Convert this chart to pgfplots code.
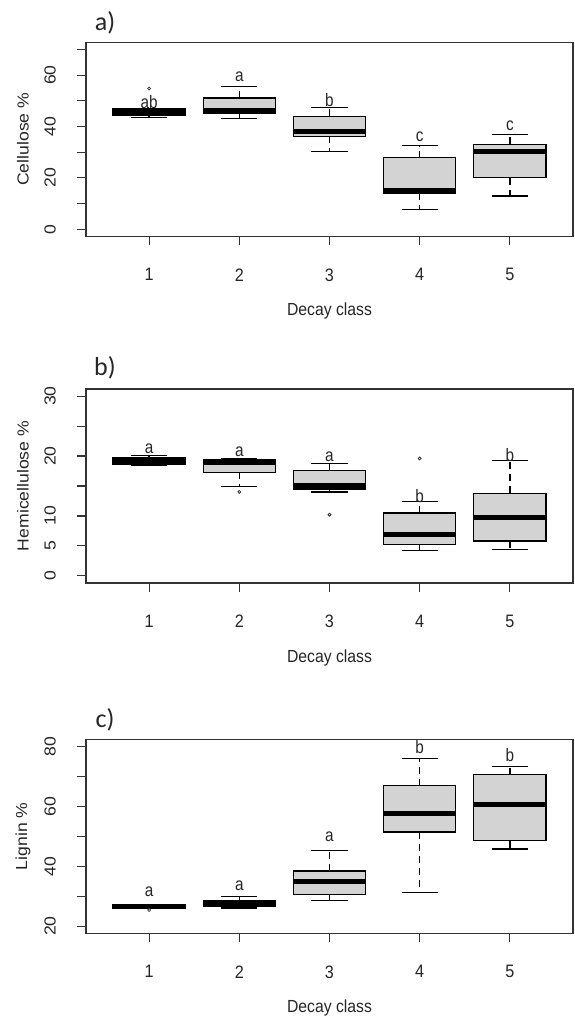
\documentclass[border=0pt]{standalone}
\usepackage{pgfplots}
\pgfplotsset{compat=1.18}
\usepgfplotslibrary{statistics}
\usepackage{fontspec}
\setmainfont{Liberation Sans}
\newfontfamily\hfont[FakeStretch=0.9]{Liberation Sans}
\newfontfamily\vfont[FakeStretch=1.1]{Liberation Sans}
\newfontfamily\lfont[FakeStretch=0.85]{Liberation Sans}
\newfontfamily\tfont{Carlito}
\definecolor{boxgray}{HTML}{D3D3D3}
\definecolor{txt}{HTML}{262626}

\tikzset{
  lab/.style={font=\lfont\fontsize{18}{18}\selectfont, text=txt, inner sep=0pt, anchor=center},
  ttl/.style={font=\tfont\fontsize{26}{26}\selectfont, text=txt, inner sep=0pt, anchor=center},
}

\pgfplotsset{
  rbox/.style={
    boxplot/draw direction=y,
    boxplot/box extend=0.8,
    boxplot/whisker extend=0.4,
    draw=black, line width=1.3pt, solid,
    mark=o, mark size=1.5pt, mark options={solid, line width=0.8pt, draw=black!80},
    boxplot/draw/box/.code={%
      \draw[line width=1.3pt, fill=boxgray, draw=black]
        (boxplot box cs:\pgfplotsboxplotvalue{lower quartile},0) rectangle
        (boxplot box cs:\pgfplotsboxplotvalue{upper quartile},1);},
    boxplot/draw/median/.code={%
      \draw[line width=5pt, black]
        (boxplot box cs:\pgfplotsboxplotvalue{median},0) --
        (boxplot box cs:\pgfplotsboxplotvalue{median},1);},
    boxplot/draw/lower whisker/.code={%
      \draw[line width=1.3pt, black]
        (boxplot whisker cs:\pgfplotsboxplotvalue{lower whisker},0) --
        (boxplot whisker cs:\pgfplotsboxplotvalue{lower whisker},1);
      \draw[line width=1.3pt, black, dash pattern=on 7pt off 5pt]
        (boxplot cs:\pgfplotsboxplotvalue{lower quartile}) --
        (boxplot cs:\pgfplotsboxplotvalue{lower whisker});},
    boxplot/draw/upper whisker/.code={%
      \draw[line width=1.3pt, black]
        (boxplot whisker cs:\pgfplotsboxplotvalue{upper whisker},0) --
        (boxplot whisker cs:\pgfplotsboxplotvalue{upper whisker},1);
      \draw[line width=1.3pt, black, dash pattern=on 7pt off 5pt]
        (boxplot cs:\pgfplotsboxplotvalue{upper quartile}) --
        (boxplot cs:\pgfplotsboxplotvalue{upper whisker});},
  },
  panel/.style={
    width=487pt, height=194pt, scale only axis, clip=false,
    anchor=north west,
    xmin=0.3, xmax=5.7, xtick={1,2,3,4,5}, xticklabels={1,2,3,4,5},
    tick pos=left, tick align=outside, major tick length=9pt,
    minor tick num=0,
    /pgf/number format/assume math mode=true,
    tick style={line width=1.2pt, black!80},
    axis line style={line width=1.4pt, black!80},
    xticklabel style={font=\hfont\fontsize{18}{18}\selectfont, anchor=north, inner sep=0pt, text=txt},
    xticklabel shift=23pt,
    yticklabel style={font=\vfont\fontsize{16}{16}\selectfont, rotate=90, anchor=south, inner sep=0pt, text=txt},
    yticklabel shift=21pt,
    xlabel={Decay class},
    xlabel style={at={(axis description cs:0.5,-0.384)}, anchor=center, inner sep=0pt,
      font=\hfont\fontsize{17.5}{17.5}\selectfont, text=txt},
    ylabel style={at={(axis description cs:-0.1294,0.5)}, anchor=center, inner sep=0pt,
      font=\vfont\fontsize{16}{16}\selectfont, text=txt},
  },
}

\newcommand{\rb}[7]{%
  \addplot[rbox, boxplot prepared={draw position=#1, lower whisker=#2,
    lower quartile=#3, median=#4, upper quartile=#5, upper whisker=#6}]
    coordinates {#7};}

\begin{document}
\begin{tikzpicture}
\path[use as bounding box] (0pt,0pt) rectangle (574pt,-1016pt);

% ---------------- a) Cellulose
\begin{axis}[panel, at={(86pt,-42.3pt)},
  ymin=-2.8, ymax=72.8, ytick={0,10,20,30,40,50,60,70},
  yticklabels={0,,20,,40,,60,}, ylabel={Cellulose \%}]
\rb{1}{43.4}{44.4}{45.6}{46.8}{46.8}{(0,54.8)}
\rb{2}{43.2}{45.1}{46.3}{51.1}{55.6}{}
\rb{3}{30.3}{36.2}{38.1}{44.0}{47.3}{}
\rb{4}{7.7}{14.1}{15.0}{27.8}{32.5}{}
\rb{5}{12.9}{20.0}{30.4}{33.0}{36.8}{}
\node[lab] at (axis cs:1,49.6) {ab};
\node[lab] at (axis cs:2,59.3) {a};
\node[lab] at (axis cs:3,50.3) {b};
\node[lab] at (axis cs:4,36.0) {c};
\node[lab] at (axis cs:5,40.2) {c};
\node[ttl] at (axis description cs:0.039,1.10) {a)};
\end{axis}

% ---------------- b) Hemicellulose
\begin{axis}[panel, at={(86pt,-389pt)},
  ymin=-1.2, ymax=31.2, ytick={0,5,10,15,20,25,30},
  yticklabels={0,5,10,,20,,30}, ylabel={Hemicellulose \%}]
\rb{1}{18.4}{18.7}{19.2}{19.7}{20.05}{}
\rb{2}{14.9}{17.3}{19.0}{19.4}{19.6}{(0,14.0)}
\rb{3}{14.0}{14.5}{15.1}{17.6}{18.8}{(0,10.2)}
\rb{4}{4.2}{5.2}{6.9}{10.5}{12.4}{(0,19.6)}
\rb{5}{4.4}{5.8}{9.7}{13.8}{19.3}{}
\node[lab] at (axis cs:1,21.3) {a};
\node[lab] at (axis cs:2,20.8) {a};
\node[lab] at (axis cs:3,19.9) {a};
\node[lab] at (axis cs:4,13.4) {b};
\node[lab] at (axis cs:5,20.1) {b};
\node[ttl] at (axis description cs:0.039,1.108) {b)};
\end{axis}

% ---------------- c) Lignin
\begin{axis}[panel, at={(86pt,-739.3pt)},
  ymin=17.6, ymax=82.4, ytick={20,30,40,50,60,70,80},
  yticklabels={20,,40,,60,,80}, ylabel={Lignin \%}]
\rb{1}{26.0}{26.0}{26.6}{27.2}{27.2}{(0,25.4)}
\rb{2}{26.1}{26.6}{27.4}{28.6}{30.0}{}
\rb{3}{28.5}{30.6}{34.9}{38.4}{45.3}{}
\rb{4}{31.2}{51.4}{57.5}{66.9}{76.1}{}
\rb{5}{45.8}{48.6}{60.7}{70.6}{73.4}{}
\node[lab] at (axis cs:1,31.6) {a};
\node[lab] at (axis cs:2,33.6) {a};
\node[lab] at (axis cs:3,49.7) {a};
\node[lab] at (axis cs:4,79.8) {b};
\node[lab] at (axis cs:5,77.0) {b};
\node[ttl] at (axis description cs:0.039,1.10) {c)};
\end{axis}
\end{tikzpicture}
\end{document}
